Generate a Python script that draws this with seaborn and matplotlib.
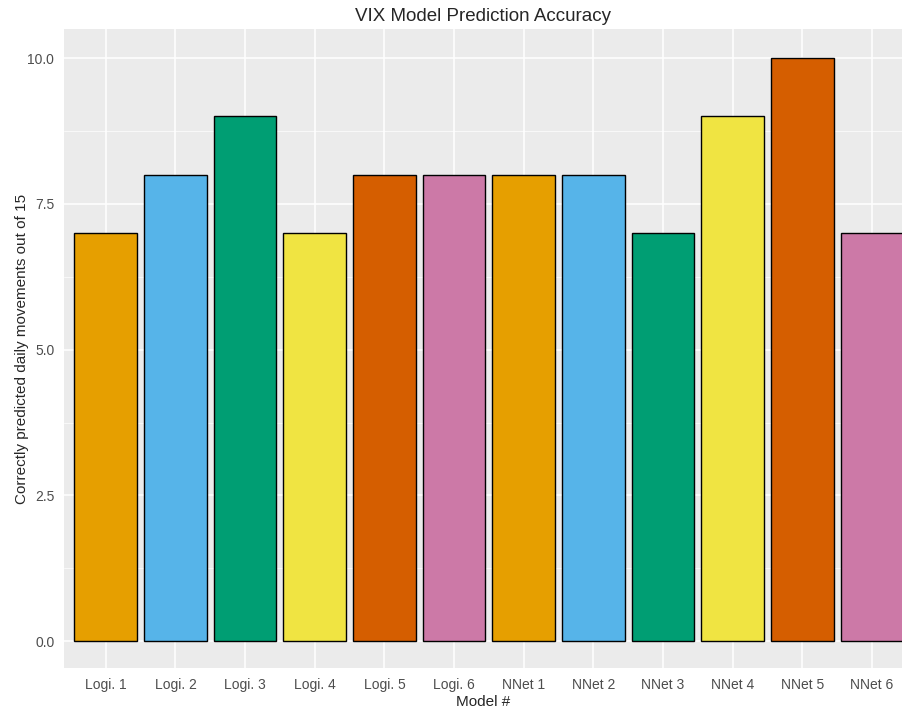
import pandas as pd
import matplotlib.pyplot as plt
import seaborn as sns
from matplotlib.ticker import MultipleLocator

models = ["Logi. 1", "Logi. 2", "Logi. 3", "Logi. 4", "Logi. 5", "Logi. 6",
          "NNet 1", "NNet 2", "NNet 3", "NNet 4", "NNet 5", "NNet 6"]
correct = [7, 8, 9, 7, 8, 8, 8, 8, 7, 9, 10, 7]
colors = ["#E69F00", "#56B4E9", "#009E73", "#F0E442", "#D55E00", "#CC79A7",
          "#E69F00", "#56B4E9", "#009E73", "#F0E442", "#D55E00", "#CC79A7"]

df = pd.DataFrame({"model": models, "correct": correct})

sns.set_style('darkgrid', {'axes.facecolor': '#EBEBEB', 'grid.color': 'white'})
plt.rcParams['font.family'] = ['Liberation Sans', 'DejaVu Sans']

fig = plt.figure(figsize=(9.03, 7.13), dpi=100)
ax = fig.add_axes([64/903, 1 - 668/713, 1 - 64/903, (668 - 29)/713])

sns.barplot(data=df, x="model", y="correct", hue="model", palette=colors,
            legend=False, width=0.9, edgecolor="black", linewidth=1.0,
            saturation=1, ax=ax, zorder=3)

ax.set_xlim(-0.6, 11 + (903 - 872)/69.7)
ax.set_ylim(-0.46, 10.5)
ax.yaxis.set_minor_locator(MultipleLocator(1.25))
ax.set_yticks([0, 2.5, 5, 7.5, 10])
ax.set_yticklabels(["0.0", "2.5", "5.0", "7.5", "10.0"])
ax.grid(which='major', color='white', linewidth=1.1)
ax.grid(which='minor', axis='y', color='white', linewidth=0.5)
ax.set_axisbelow(True)
for s in ax.spines.values():
    s.set_visible(False)
ax.tick_params(axis='both', which='major', length=3, width=1, color='#333333',
               labelsize=10, labelcolor='#4D4D4D', pad=4)
ax.tick_params(axis='y', which='minor', length=0)

ax.set_title("VIX Model Prediction Accuracy", fontsize=13.5, pad=6)
ax.set_xlabel("Model #", fontsize=11, labelpad=2)
ax.set_ylabel("Correctly predicted daily movements out of 15", fontsize=11, labelpad=-1)

fig.savefig("out.png", dpi=100)
